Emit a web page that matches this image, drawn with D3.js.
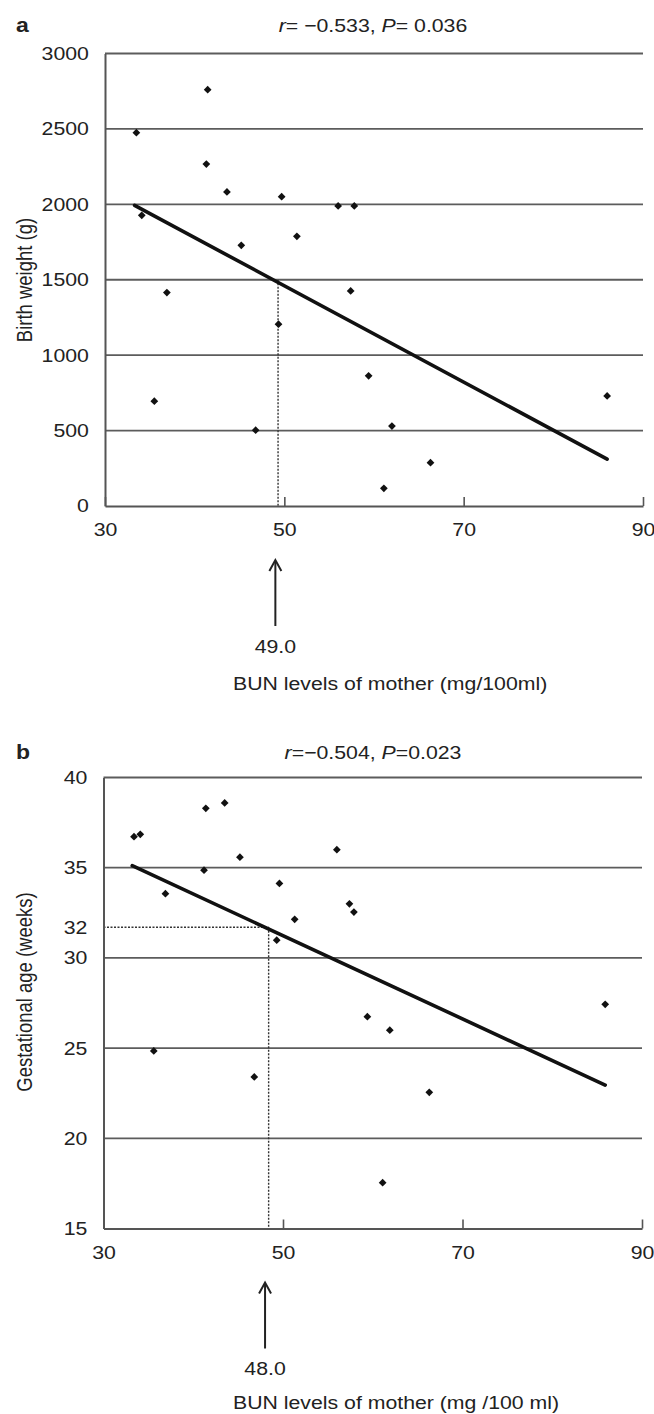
<!DOCTYPE html>
<html>
<head>
<meta charset="utf-8">
<script src="https://cdn.jsdelivr.net/npm/d3@7"></script>
<style>
body { margin: 0; background: #fff; }
svg text { font-family: "Liberation Sans", Arial, sans-serif; fill: #222; }
</style>
</head>
<body>
<svg id="chart" width="654" height="1414"></svg>
<script>
// Panel a: BUN of mother vs birth weight
var bunA = [33.5, 34.1, 35.5, 36.9, 41.3, 41.45, 43.6, 45.2, 46.8, 49.35, 49.7, 51.4, 56.0, 57.4, 57.8, 59.4, 61.1, 62.0, 66.3, 86.0];
var weightA = [2475, 1927, 695, 1415, 2267, 2760, 2082, 1728, 503, 1205, 2051, 1788, 1989, 1426, 1989, 863, 117, 530, 287, 730];
var fitBunA = [33.3, 86.0];
var fitWeightA = [1993, 311];
var yTicksA = [0, 500, 1000, 1500, 2000, 2500, 3000];

// Panel b: BUN of mother vs gestational age
var bunB = [33.4, 34.1, 35.6, 36.9, 41.2, 41.4, 43.5, 45.2, 46.8, 49.3, 49.6, 51.3, 56.0, 57.4, 57.9, 59.4, 61.1, 61.9, 66.3, 85.9];
var ageB = [36.72, 36.85, 24.84, 33.56, 34.86, 38.29, 38.59, 35.58, 23.4, 30.98, 34.13, 32.14, 36.0, 33.0, 32.54, 26.74, 17.54, 25.99, 22.55, 27.43];
var fitBunB = [33.2, 85.9];
var fitAgeB = [35.11, 22.95];
var yTicksB = [15, 20, 25, 30, 35, 40];

var xTicks = [30, 50, 70, 90];

var svg = d3.select("#chart");
var fontSize = 18.5,
    stretch = 1.15;   // the source figure is a bit wide

function drawPanel(p) {
    var x = d3.scaleLinear().domain([30, 90]).range([p.left, p.right]);
    var y = d3.scaleLinear().domain([p.yTicks[0], p.yTicks[p.yTicks.length - 1]]).range([p.bottom, p.top]);
    var g = svg.append("g");

    //Gridlines
    g.append("g").selectAll("line")
        .data(p.yTicks.slice(1))
        .enter().append("line")
        .attr("x1", p.left).attr("x2", p.right)
        .attr("y1", function(d) { return y(d); })
        .attr("y2", function(d) { return y(d); })
        .attr("stroke", "#5c5c5c")
        .attr("stroke-width", 1.8);

    //Dotted guide lines
    p.guides.forEach(function(s) {
        g.append("line")
            .attr("x1", x(s[0])).attr("y1", y(s[1]))
            .attr("x2", x(s[2])).attr("y2", y(s[3]))
            .attr("stroke", "#333")
            .attr("stroke-width", 1.4)
            .attr("stroke-dasharray", "2,1.5");
    });

    //Axes
    var yLabels = p.yTicks.slice();
    if (p.extraY) yLabels.push(p.extraY[0]);
    var yAxis = g.append("g")
        .attr("transform", "translate(" + p.left + ",0)")
        .call(d3.axisLeft(y).tickValues(yLabels).tickSize(0).tickPadding(14)
            .tickFormat(function(d) { return (p.extraY && d === p.extraY[0]) ? p.extraY[1] : d; }));
    var xAxis = g.append("g")
        .attr("transform", "translate(0," + p.bottom + ")")
        .call(d3.axisBottom(x).tickValues(xTicks).tickSizeInner(-9).tickSizeOuter(0).tickPadding(17));
    [xAxis, yAxis].forEach(function(ax) {
        ax.attr("font-size", fontSize).attr("font-family", null);
        ax.select(".domain").attr("stroke", "#555").attr("stroke-width", 2);
        ax.selectAll(".tick line").attr("stroke", "#555").attr("stroke-width", 1.6);
        ax.selectAll("text").attr("fill", "#222").attr("transform", "scale(" + stretch + ",1)");
    });

    //Regression line
    var line = d3.line()
        .x(function(d) { return x(d[0]); })
        .y(function(d) { return y(d[1]); });
    g.append("path")
        .datum(d3.zip(p.fitX, p.fitY))
        .attr("d", line)
        .attr("fill", "none")
        .attr("stroke", "#111")
        .attr("stroke-width", 3.6)
        .attr("stroke-linecap", "round");

    //Points
    g.selectAll(".pt")
        .data(d3.zip(p.xs, p.ys))
        .enter().append("path")
        .attr("class", "pt")
        .attr("d", d3.symbol().type(d3.symbolSquare).size(30))
        .attr("transform", function(d) { return "translate(" + x(d[0]) + "," + y(d[1]) + ") rotate(45)"; })
        .attr("fill", "#111");

    //Arrow pointing at the cut-off value
    var ax0 = x(p.cutoff);
    var tip = p.bottom + 54, tail = p.bottom + 120;
    g.append("line")
        .attr("x1", ax0).attr("x2", ax0).attr("y1", tip + 1).attr("y2", tail)
        .attr("stroke", "#222").attr("stroke-width", 2);
    g.append("path")
        .attr("d", "M" + (ax0 - 6) + "," + (tip + 11) + "L" + ax0 + "," + tip + "L" + (ax0 + 6) + "," + (tip + 11))
        .attr("fill", "none").attr("stroke", "#222").attr("stroke-width", 2);
    g.append("text")
        .attr("transform", "translate(" + ax0 + "," + (p.bottom + 146.5) + ") scale(" + stretch + ",1)")
        .attr("text-anchor", "middle")
        .style("font-size", fontSize + "px")
        .text(p.cutoff.toFixed(1));

    //X axis title
    g.append("text")
        .attr("transform", "translate(233," + (p.bottom + p.xLabelGap) + ") scale(" + stretch + ",1)")
        .style("font-size", fontSize + "px")
        .text(p.xLabel);

    //Y axis title
    g.append("text")
        .attr("transform", "translate(32," + p.yLabelCenter + ") rotate(-90) scale(1," + stretch + ")")
        .attr("text-anchor", "middle")
        .style("font-size", fontSize + "px")
        .text(p.yLabel);

    //Panel letter and statistics
    g.append("text")
        .attr("transform", "translate(16," + (p.titleY + 6.5) + ") scale(" + stretch + ",1)")
        .style("font-size", "20px")
        .style("font-weight", "bold")
        .text(p.letter);
    var t = g.append("text")
        .attr("transform", "translate(373," + (p.titleY + 6.5) + ") scale(" + stretch + ",1)")
        .attr("text-anchor", "middle")
        .style("font-size", fontSize + "px");
    p.title.forEach(function(part) {
        t.append("tspan").style("font-style", part[1] ? "italic" : "normal").text(part[0]);
    });
}

drawPanel({
    letter: "a", titleY: 25,
    title: [["r", true], ["= \u22120.533, ", false], ["P", true], ["= 0.036", false]],
    left: 105, right: 643, top: 53.5, bottom: 506,
    yTicks: yTicksA,
    xs: bunA, ys: weightA, fitX: fitBunA, fitY: fitWeightA,
    guides: [[49.3, 1500, 49.3, 0]],
    cutoff: 49.0,
    xLabel: "BUN levels of mother (mg/100ml)", xLabelGap: 184,
    yLabel: "Birth weight (g)", yLabelCenter: 280
});

drawPanel({
    letter: "b", titleY: 752,
    title: [["r", true], ["=\u22120.504, ", false], ["P", true], ["=0.023", false]],
    left: 103.5, right: 642, top: 777.5, bottom: 1228.5,
    yTicks: yTicksB, extraY: [31.7, "32"],
    xs: bunB, ys: ageB, fitX: fitBunB, fitY: fitAgeB,
    guides: [[30, 31.7, 48.4, 31.7], [48.4, 31.7, 48.4, 15]],
    cutoff: 48.0,
    xLabel: "BUN levels of mother (mg /100 ml)", xLabelGap: 180,
    yLabel: "Gestational age (weeks)", yLabelCenter: 992
});
</script>
</body>
</html>
